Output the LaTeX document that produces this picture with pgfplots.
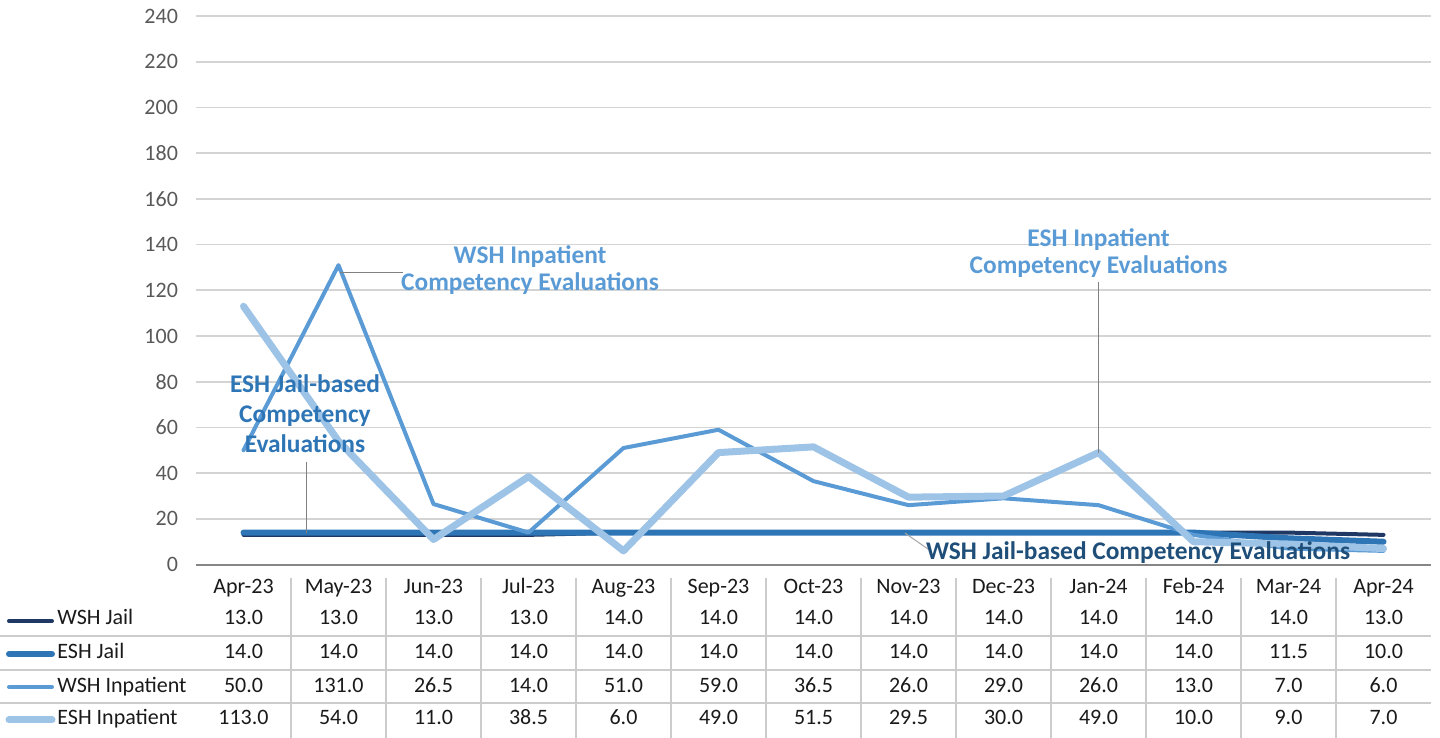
\documentclass[border=0pt]{standalone}
\usepackage{pgfplots}
\pgfplotsset{compat=1.18}
\usepackage{pgfplotstable}
\usepackage{fontspec}
\setmainfont{Carlito}
\definecolor{wjc}{HTML}{1F3864}
\definecolor{ejc}{HTML}{2E75B6}
\definecolor{wic}{HTML}{5B9BD5}
\definecolor{eic}{HTML}{9DC3E6}
\definecolor{lblwj}{HTML}{1F4E79}
\definecolor{gridc}{HTML}{D4D4D4}
\definecolor{axc}{HTML}{868686}
\definecolor{tickc}{HTML}{595959}
\definecolor{sepc}{HTML}{CCCCCC}
\definecolor{txtc}{HTML}{1A1A1A}
\pgfkeys{/pgf/number format/assume math mode=true}

\pgfplotstableread{
idx month  wj   ej   wi    ei
0   Apr-23 13.0 14.0 50.0  113.0
1   May-23 13.0 14.0 131.0 54.0
2   Jun-23 13.0 14.0 26.5  11.0
3   Jul-23 13.0 14.0 14.0  38.5
4   Aug-23 14.0 14.0 51.0  6.0
5   Sep-23 14.0 14.0 59.0  49.0
6   Oct-23 14.0 14.0 36.5  51.5
7   Nov-23 14.0 14.0 26.0  29.5
8   Dec-23 14.0 14.0 29.0  30.0
9   Jan-24 14.0 14.0 26.0  49.0
10  Feb-24 14.0 14.0 13.0  10.0
11  Mar-24 14.0 11.5 7.0   9.0
12  Apr-24 13.0 10.0 6.0   7.0
}\data

\newcommand{\tabfont}{\fontsize{11}{13}\selectfont}
\newcommand{\lblfont}{\bfseries\fontsize{12.7}{13.5}\selectfont}

\begin{document}
\begin{tikzpicture}[x=0.5pt,y=0.5pt]
\path[use as bounding box] (0,0) rectangle (1440,738);
\begin{axis}[
  at={(98pt,86.7pt)}, anchor=south west,
  scale only axis, width=617.5pt, height=274.3pt,
  xmin=-0.5, xmax=12.5, ymin=0, ymax=240,
  ytick={0,20,...,240}, xtick=\empty,
  ymajorgrids, grid style={draw=gridc, line width=0.85pt},
  axis x line*=bottom, axis y line*=left,
  y axis line style={draw=none},
  x axis line style={draw=axc, line width=1pt},
  major tick length=0pt,
  yticklabel style={font=\tabfont, text=tickc, anchor=east, xshift=-5.5pt},
  /pgf/number format/assume math mode=true,
  clip=false,
  every axis plot/.append style={line join=round, line cap=round, mark=none},
]
\addplot[wjc, line width=2pt] table[x=idx, y=wj] {\data};
\addplot[ejc, line width=3pt] table[x=idx, y=ej] {\data};
\addplot[wic, line width=2pt] table[x=idx, y=wi] {\data};
\addplot[eic, line width=3.5pt] table[x=idx, y=ei] {\data};

% leader lines
\draw[gray, line width=0.5pt] (axis cs:1.016,128) -- (axis cs:1.679,128);
\draw[gray, line width=0.5pt] (axis cs:0.658,44.9) -- (axis cs:0.658,14);
\draw[gray, line width=0.5pt] (axis cs:9.0,123.6) -- (axis cs:9.0,49);
\draw[gray!70, line width=0.5pt] (axis cs:6.963,13.8) -- (axis cs:7.205,6.8);

% annotations
\node[font=\lblfont, text=wic, align=center] at (axis cs:3.016,128.9) {WSH Inpatient\\Competency Evaluations};
\node[font=\bfseries\fontsize{12.7}{15.2}\selectfont, text=ejc, align=center] at (axis cs:0.647,66.0) {ESH Jail-based\\Competency\\Evaluations};
\node[font=\lblfont, text=wic, align=center] at (axis cs:9.0,136.3) {ESH Inpatient\\Competency Evaluations};
\node[font=\lblfont, text=lblwj, align=center] at (axis cs:9.416,5.1) {WSH Jail-based Competency Evaluations};
\end{axis}

% data table
\foreach \k in {1,...,12} {
  \pgfmathsetmacro\sx{196+95*\k}
  \draw[sepc, line width=0.75pt] (\sx,{738-578}) -- (\sx,0);
}
\foreach \yy in {636,670,703} {
  \draw[sepc, line width=0.75pt] (0,{738-\yy}) -- (1431,{738-\yy});
}
% legend keys and row labels
\draw[wjc, line width=2pt, line cap=round] (9,{738-621}) -- (52,{738-621});
\draw[ejc, line width=3pt, line cap=round] (9,{738-654}) -- (52,{738-654});
\draw[wic, line width=2pt, line cap=round] (9,{738-687}) -- (52,{738-687});
\draw[eic, line width=3.5pt, line cap=round] (9,{738-720}) -- (52,{738-720});
\node[font=\tabfont, text=txtc, anchor=base west, inner sep=0pt] at (57,{738-625}) {WSH Jail};
\node[font=\tabfont, text=txtc, anchor=base west, inner sep=0pt] at (57,{738-659}) {ESH Jail};
\node[font=\tabfont, text=txtc, anchor=base west, inner sep=0pt] at (57,{738-693}) {WSH Inpatient};
\node[font=\tabfont, text=txtc, anchor=base west, inner sep=0pt] at (57,{738-725}) {ESH Inpatient};

\foreach \i in {0,...,12} {
  \pgfmathsetmacro\cx{243.5+95*\i}
  \pgfplotstablegetelem{\i}{month}\of\data
  \node[font=\tabfont, text=txtc, anchor=base, inner sep=0pt] at (\cx,{738-594}) {\pgfplotsretval};
  \pgfplotstablegetelem{\i}{wj}\of\data
  \node[font=\tabfont, text=txtc, anchor=base, inner sep=0pt] at (\cx,{738-625}) {\pgfmathprintnumber[fixed,fixed zerofill,precision=1]{\pgfplotsretval}};
  \pgfplotstablegetelem{\i}{ej}\of\data
  \node[font=\tabfont, text=txtc, anchor=base, inner sep=0pt] at (\cx,{738-659}) {\pgfmathprintnumber[fixed,fixed zerofill,precision=1]{\pgfplotsretval}};
  \pgfplotstablegetelem{\i}{wi}\of\data
  \node[font=\tabfont, text=txtc, anchor=base, inner sep=0pt] at (\cx,{738-693}) {\pgfmathprintnumber[fixed,fixed zerofill,precision=1]{\pgfplotsretval}};
  \pgfplotstablegetelem{\i}{ei}\of\data
  \node[font=\tabfont, text=txtc, anchor=base, inner sep=0pt] at (\cx,{738-725}) {\pgfmathprintnumber[fixed,fixed zerofill,precision=1]{\pgfplotsretval}};
}
\end{tikzpicture}
\end{document}
